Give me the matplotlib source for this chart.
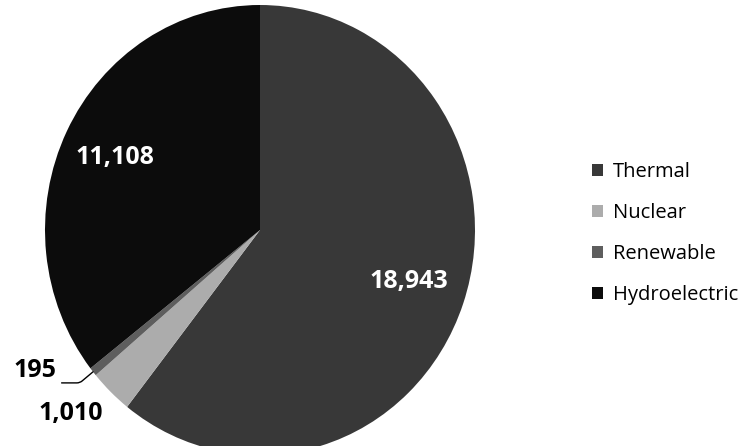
import numpy as np
from matplotlib import pyplot as plt

labels = ["Thermal", "Nuclear", "Renewable", "Hydroelectric"]
values = [18943, 1010, 195, 11108]
value_text = ["18,943", "1,010", "195", "11,108"]
colors = ["#383838", "#acacac", "#5e5e5e", "#0c0c0c"]

plt.rcParams['font.family'] = ['Open Sans', 'DejaVu Sans']

W, H = 749, 446
cx, cy = 260, 216      # pie centre in pixels (from bottom)
rx, ry = 215, 225      # scanned pie is slightly taller than wide

fig = plt.figure(figsize=(W / 100, H / 100), dpi=100)
ax = fig.add_axes([0, 0, 1, 1])
wedges, _ = ax.pie(values, colors=colors, startangle=90, counterclock=False,
                   radius=1, frame=True, wedgeprops=dict(linewidth=0))
ax.set_aspect('auto')
ax.set_xlim(-cx / rx, (W - cx) / rx)
ax.set_ylim(-cy / ry, (H - cy) / ry)
ax.axis('off')

# where each value label sits: distance (x radius) and angle nudge
dist = [0.73, 1.20, 1.22, 0.75]
nudge = [0.7, -3.2, -8.3, 0.5]
text_col = ["white", "black", "black", "white"]
for w, t, d, s, c in zip(wedges, value_text, dist, nudge, text_col):
    mid = np.deg2rad((w.theta1 + w.theta2) / 2)
    a = mid + np.deg2rad(s)
    x, y = d * np.cos(a), d * np.sin(a)
    if t == "195":
        ax.annotate(t, xy=(np.cos(mid), np.sin(mid)), xytext=(x, y),
                    fontsize=18, fontweight="bold", ha="center", va="center",
                    arrowprops=dict(arrowstyle="-", color="black", lw=1,
                                    relpos=(1, 0), shrinkA=2, shrinkB=0,
                                    connectionstyle="angle,angleA=0,angleB=-140,rad=3"))
    else:
        ax.text(x, y, t, color=c, fontsize=18, fontweight="bold",
                ha="center", va="center")

ax.legend(wedges, labels, loc="center left", bbox_to_anchor=(0.79, 0.476),
          frameon=False, fontsize=14.5, handlelength=0.55, handleheight=0.55,
          labelspacing=1.05, handletextpad=0.5, borderpad=0, borderaxespad=0)

fig.savefig("out.png", dpi=100)
